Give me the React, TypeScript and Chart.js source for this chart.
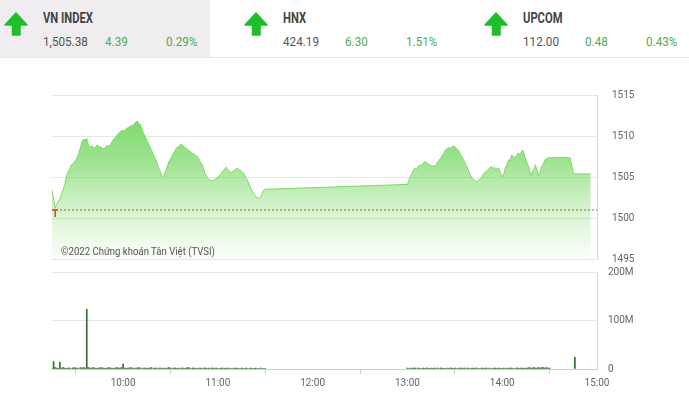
import React, { useEffect, useRef } from "react";
import { Chart, registerables } from "chart.js";
Chart.register(...registerables);

// ---- header data ----
const indexNames = ["VN INDEX", "HNX", "UPCOM"];
const indexValues = ["1,505.38", "424.19", "112.00"];
const indexChanges = ["4.39", "6.30", "0.48"];
const indexPcts = ["0.29%", "1.51%", "0.43%"];

// ---- price line data ----
const priceTimes = [
  "9:15","9:16","9:17","9:18","9:19","9:20","9:21","9:22","9:23","9:24","9:25","9:26","9:27","9:28","9:29",
  "9:30","9:31","9:32","9:33","9:34","9:35","9:36","9:37","9:38","9:39","9:40","9:41","9:42","9:43","9:44",
  "9:45","9:46","9:47","9:48","9:49","9:50","9:51","9:52","9:53","9:54","9:55","9:56","9:57","9:58","9:59",
  "10:00","10:01","10:02","10:03","10:04","10:05","10:06","10:07","10:08","10:09","10:10","10:11","10:12","10:13","10:14",
  "10:15","10:16","10:17","10:18","10:19","10:20","10:21","10:22","10:23","10:24","10:25","10:26","10:27","10:28","10:29",
  "10:30","10:31","10:32","10:33","10:34","10:35","10:36","10:37","10:38","10:39","10:40","10:41","10:42","10:43","10:44",
  "10:45","10:46","10:47","10:48","10:49","10:50","10:51","10:52","10:53","10:54","10:55","10:56","10:57","10:58","10:59",
  "11:00","11:01","11:02","11:03","11:04","11:05","11:06","11:07","11:08","11:09","11:10","11:11","11:12","11:13","11:14",
  "11:15","11:16","11:17","11:18","11:19","11:20","11:21","11:22","11:23","11:24","11:25","11:26","11:27","11:28","11:29","11:30",
  "13:00","13:01","13:02","13:03","13:04","13:05","13:06","13:07","13:08","13:09","13:10","13:11","13:12","13:13","13:14",
  "13:15","13:16","13:17","13:18","13:19","13:20","13:21","13:22","13:23","13:24","13:25","13:26","13:27","13:28","13:29",
  "13:30","13:31","13:32","13:33","13:34","13:35","13:36","13:37","13:38","13:39","13:40","13:41","13:42","13:43","13:44",
  "13:45","13:46","13:47","13:48","13:49","13:50","13:51","13:52","13:53","13:54","13:55","13:56","13:57","13:58","13:59",
  "14:00","14:01","14:02","14:03","14:04","14:05","14:06","14:07","14:08","14:09","14:10","14:11","14:12","14:13","14:14",
  "14:15","14:16","14:17","14:18","14:19","14:20","14:21","14:22","14:23","14:24","14:25","14:26","14:27","14:28","14:29",
  "14:30","14:43","14:45","14:56"
];
const priceValues = [
  1503.4,1502.3,1501.2,1501.6,1502.1,1502.2,1502.9,1503.5,1504.0,1504.9,1505.6,1505.9,1506.4,1506.6,1506.8,
  1507.0,1507.4,1507.9,1508.6,1509.3,1509.6,1509.5,1509.7,1508.9,1508.6,1508.8,1508.7,1508.5,1508.8,1508.9,
  1508.6,1508.7,1508.4,1508.5,1508.6,1508.9,1508.7,1509.0,1509.3,1509.6,1509.8,1510.1,1510.3,1510.5,1510.6,
  1510.7,1510.6,1510.9,1511.0,1511.1,1511.3,1511.2,1511.5,1511.7,1511.8,1511.5,1511.4,1510.8,1510.3,1509.9,
  1509.5,1509.1,1508.7,1508.3,1507.8,1507.4,1507.0,1506.4,1505.9,1505.5,1505.0,1505.2,1505.8,1506.3,1506.9,
  1507.2,1507.6,1507.9,1508.3,1508.6,1508.7,1508.9,1509.0,1508.8,1508.6,1508.5,1508.3,1508.2,1508.0,1507.9,
  1507.8,1507.6,1507.5,1507.2,1506.8,1506.5,1506.0,1505.4,1505.0,1504.8,1504.6,1504.5,1504.6,1504.7,1504.9,
  1505.0,1505.2,1505.4,1505.7,1505.9,1506.2,1506.0,1505.8,1505.5,1505.6,1505.8,1505.9,1506.1,1506.0,1505.8,
  1505.7,1505.5,1505.2,1504.8,1504.5,1504.0,1503.6,1503.2,1502.9,1502.6,1502.5,1502.4,1502.5,1503.0,1503.4,1503.5,
  1504.1,1504.6,1505.2,1505.5,1505.9,1506.1,1506.0,1506.3,1506.5,1506.4,1506.7,1506.9,1506.8,1506.6,1506.5,
  1506.4,1506.3,1506.4,1506.3,1506.8,1507.0,1507.3,1507.6,1507.9,1508.3,1508.4,1508.6,1508.5,1508.6,1508.8,
  1508.7,1508.5,1508.3,1508.0,1507.6,1507.3,1506.9,1506.5,1506.1,1505.6,1505.2,1504.8,1504.7,1504.5,1504.4,
  1504.6,1504.8,1505.0,1505.3,1505.6,1505.7,1505.9,1506.1,1506.3,1506.0,1506.2,1505.8,1506.1,1506.0,1505.5,
  1505.0,1505.4,1506.1,1506.5,1507.1,1507.0,1507.7,1507.5,1507.3,1507.6,1507.9,1507.8,1508.0,1508.3,1507.7,
  1507.1,1506.6,1506.1,1505.2,1505.6,1505.9,1506.5,1505.8,1505.2,1505.6,1506.3,1506.6,1507.1,1507.2,1507.35,
  1507.35,1507.35,1505.38,1505.38
];
const refValue = 1500.99;
const refMarkTime = "9:17";

// ---- volume data (millions, one bar per minute) ----
const volMorningStart = "9:15";
const volMorning = [
  2,15,3,2,1,14,2,3,2,1, 2,2,1,2,3,2,2,1,3,2, 3,2,123,3,2,2,3,2,1,2,
  2,3,2,2,1,2,3,2,2,1, 2,3,2,2,3,10,2,1,2,2, 3,2,1,2,2,3,2,1,2,2,
  1,2,2,3,1,2,2,1,2,2, 1,2,1,2,3,2,1,2,2,1, 2,1,2,2,1,2,3,2,1,2,
  2,1,1,2,2,1,2,2,1,2, 1,2,2,1,2,1,1,2,2,1, 2,1,2,1,1,2,1,2,1,1,
  2,1,1,2,1,1,2,1,1,2, 1,1,2,1,1,1
];
const volAfternoonStart = "13:00";
const volAfternoon = [
  2,1,2,1,2,2,1,2,1,1, 2,1,2,2,1,2,1,2,1,2, 1,2,2,1,1,2,1,2,2,1,
  2,1,1,2,2,1,2,1,2,1, 1,2,1,2,2,1,1,2,1,2, 2,1,2,1,1,2,2,1,2,1,
  1,2,1,2,1,2,2,1,1,2, 2,1,2,2,1,2,2,3,2,2, 3,2,2,3,2,3,3,2,3,2, 2
];
const volAtcTime = "14:46";
const volAtc = 24;

// ---- axes ----
const xStart = "9:15";
const xEnd = "15:00";
const xTickTimes = ["10:00", "11:00", "12:00", "13:00", "14:00", "15:00"];
const priceMin = 1495, priceMax = 1515, priceStep = 5;
const volMin = 0, volMax = 200, volStep = 100;

const toMin = (t: string) => {
  const [h, m] = t.split(":").map(Number);
  return h * 60 + m;
};
const fmtMin = (v: number) => {
  const h = Math.floor(v / 60);
  const m = Math.round(v % 60);
  return `${h}:${m < 10 ? "0" + m : m}`;
};

const AXIS_W = 92;
const FONT = "Roboto";

const noScalePadding = (s: any) => {
  s.paddingTop = 0;
  s.paddingBottom = 0;
  s.paddingLeft = 0;
  s.paddingRight = 0;
};

function PriceChart() {
  const ref = useRef<HTMLCanvasElement>(null);
  useEffect(() => {
    const priceData = priceTimes.map((t, i) => ({ x: toMin(t), y: priceValues[i] }));
    const chart = new Chart(ref.current!, {
      type: "line",
      data: {
        datasets: [
          {
            data: priceData,
            borderColor: "#80d66a",
            borderWidth: 1,
            pointRadius: 0,
            tension: 0,
            fill: "start",
            backgroundColor: (ctx: any) => {
              const area = ctx.chart.chartArea;
              if (!area) return "rgba(140,220,120,0.5)";
              const g = ctx.chart.ctx.createLinearGradient(0, area.top, 0, area.bottom);
              g.addColorStop(0, "rgba(100,210,80,0.95)");
              g.addColorStop(0.4, "rgba(115,215,95,0.7)");
              g.addColorStop(0.75, "rgba(140,222,120,0.3)");
              g.addColorStop(1, "rgba(160,230,145,0.06)");
              return g;
            },
            order: 2,
          },
          {
            data: [
              { x: toMin(xStart), y: refValue },
              { x: toMin(xEnd), y: refValue },
            ],
            borderColor: "rgba(200,70,30,0.9)",
            borderWidth: 1,
            borderDash: [2, 2],
            pointRadius: 0,
            fill: false,
            order: 1,
          },
          {
            data: [{ x: toMin(refMarkTime), y: refValue }],
            showLine: false,
            pointStyle: "line",
            pointRadius: 3,
            pointRotation: 0,
            borderColor: "#d04a20",
            pointBorderWidth: 1.5,
            order: 0,
          },
          {
            data: [{ x: toMin(refMarkTime), y: refValue - 0.45 }],
            showLine: false,
            pointStyle: "line",
            pointRadius: 3.5,
            pointRotation: 90,
            borderColor: "#d04a20",
            pointBorderWidth: 1.5,
            order: 0,
          },
        ],
      },
      options: {
        animation: false,
        responsive: false,
        maintainAspectRatio: false,
        events: [],
        layout: { padding: { left: 52, top: 10, bottom: 11, right: 0 } },
        plugins: { legend: { display: false }, tooltip: { enabled: false } },
        scales: {
          x: { type: "linear", min: toMin(xStart), max: toMin(xEnd), display: false },
          y: {
            position: "right",
            min: priceMin,
            max: priceMax,
            ticks: {
              stepSize: priceStep,
              padding: 15,
              color: "#666",
              font: { family: FONT, size: 10 },
              callback: (v: any) => String(v),
            },
            grid: { color: "#e6e6e6", drawTicks: false },
            border: { display: true, color: "#d4d8e0" },
            afterFit: (s: any) => {
              s.width = AXIS_W;
              noScalePadding(s);
            },
          },
        },
      },
    } as any);
    return () => chart.destroy();
  }, []);
  return <canvas ref={ref} width={689} height={185} style={{ position: "absolute", left: 0, top: 85 }} />;
}

function VolumeChart() {
  const ref = useRef<HTMLCanvasElement>(null);
  useEffect(() => {
    const m0 = toMin(volMorningStart);
    const a0 = toMin(volAfternoonStart);
    const bars = [
      ...volMorning.map((v, i) => ({ x: m0 + i, y: v })),
      ...volAfternoon.map((v, i) => ({ x: a0 + i, y: v })),
      { x: toMin(volAtcTime), y: volAtc },
    ];
    const chart = new Chart(ref.current!, {
      type: "bar",
      data: {
        datasets: [
          {
            data: bars,
            backgroundColor: "#2f6e2f",
            barThickness: 1,
            borderWidth: 0,
          },
        ],
      },
      options: {
        animation: false,
        responsive: false,
        maintainAspectRatio: false,
        events: [],
        layout: { padding: { left: 52, top: 7, bottom: 0, right: 0 } },
        plugins: { legend: { display: false }, tooltip: { enabled: false } },
        scales: {
          x: {
            type: "linear",
            min: toMin(xStart),
            max: toMin(xEnd),
            offset: false,
            afterBuildTicks: (s: any) => {
              s.ticks = xTickTimes.map((t) => ({ value: toMin(t) }));
            },
            ticks: {
              autoSkip: false,
              maxRotation: 0,
              padding: 3,
              color: "#666",
              font: { family: FONT, size: 10 },
              callback: (v: any) => fmtMin(Number(v)),
            },
            grid: { drawOnChartArea: false, drawTicks: true, tickLength: 5, color: "#ccc" },
            border: { display: true, color: "#ccc" },
            afterFit: (s: any) => {
              s.height = 26;
              noScalePadding(s);
            },
          },
          y: {
            position: "right",
            min: volMin,
            max: volMax,
            ticks: {
              stepSize: volStep,
              padding: 11,
              color: "#666",
              font: { family: FONT, size: 10 },
              callback: (v: any) => (Number(v) === 0 ? "0" : `${v}M`),
            },
            grid: { color: "#e6e6e6", drawTicks: false },
            border: { display: true, color: "#d4d8e0" },
            afterFit: (s: any) => {
              s.width = AXIS_W;
              noScalePadding(s);
            },
          },
        },
      },
    } as any);
    return () => chart.destroy();
  }, []);
  return <canvas ref={ref} width={689} height={130} style={{ position: "absolute", left: 0, top: 265 }} />;
}

function Arrow({ left }: { left: number }) {
  return (
    <svg width={24} height={24} viewBox="0 0 24 24" style={{ position: "absolute", left, top: 12 }}>
      <path
        d="M12 1 L23 13 L16 13 L16 23 L8.5 23 L8.5 13 L1 13 Z"
        fill="#1fbf2a"
        stroke="#1fbf2a"
        strokeWidth={1.5}
        strokeLinejoin="round"
      />
    </svg>
  );
}

function Header() {
  const blocks = [0, 240, 480];
  const rowStyle: React.CSSProperties = {
    position: "absolute",
    top: 35,
    fontFamily: FONT,
    fontSize: 13,
    lineHeight: "13px",
    transform: "scaleX(0.9)",
    transformOrigin: "left",
    whiteSpace: "nowrap",
  };
  return (
    <div style={{ position: "absolute", left: 0, top: 0, width: 689, height: 58 }}>
      <div style={{ position: "absolute", left: 0, top: 0, width: 210, height: 57, background: "#efedef" }} />
      <div style={{ position: "absolute", left: 0, top: 57, width: 689, height: 1, background: "#e6e6e6" }} />
      {indexNames.map((name, i) => {
        const b = blocks[i];
        return (
          <React.Fragment key={name}>
            <Arrow left={b + 4} />
            <div
              style={{
                position: "absolute",
                left: b + 43,
                top: 11,
                fontFamily: FONT,
                fontWeight: 700,
                fontSize: 14,
                lineHeight: "14px",
                color: "#444",
                transform: "scaleX(0.8)",
                transformOrigin: "left",
                whiteSpace: "nowrap",
              }}
            >
              {name}
            </div>
            <div style={{ ...rowStyle, left: b + 43, color: "#555" }}>{indexValues[i]}</div>
            <div style={{ ...rowStyle, left: b + 105, color: "#4cb04c" }}>{indexChanges[i]}</div>
            <div style={{ ...rowStyle, left: b + 166, color: "#4cb04c" }}>{indexPcts[i]}</div>
          </React.Fragment>
        );
      })}
    </div>
  );
}

export default function App() {
  return (
    <div
      style={{
        position: "fixed",
        left: 0,
        top: 0,
        width: 689,
        height: 395,
        background: "#fff",
        overflow: "hidden",
      }}
    >
      <Header />
      <PriceChart />
      <VolumeChart />
      <div
        style={{
          position: "absolute",
          left: 61,
          top: 246,
          fontFamily: FONT,
          fontSize: 11,
          lineHeight: "11px",
          color: "#555",
          whiteSpace: "nowrap",
          transform: "scaleX(0.87)",
          transformOrigin: "left",
        }}
      >
        ©2022 Chứng khoán Tân Việt (TVSI)
      </div>
    </div>
  );
}
